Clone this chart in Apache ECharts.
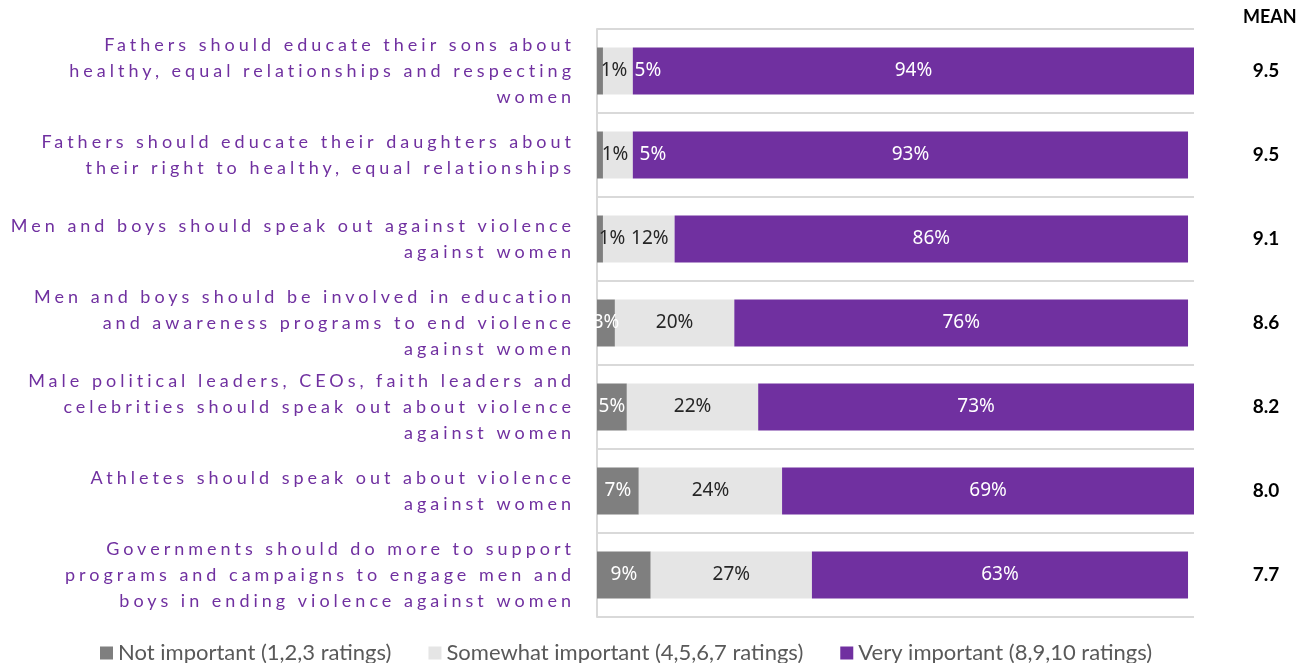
<!DOCTYPE html>
<html>
<head>
<meta charset="utf-8">
<script src="https://cdn.jsdelivr.net/npm/echarts@6/dist/echarts.min.js"></script>
<style>
  html, body { margin: 0; padding: 0; background: #fff; }
  #chart { width: 1299px; height: 663px; }
</style>
</head>
<body>
<div id="chart"></div>
<script>
// Survey statements (top to bottom)
const statements = [
  'Fathers should educate their sons about\nhealthy, equal relationships and respecting\nwomen',
  'Fathers should educate their daughters about\ntheir right to healthy, equal relationships',
  'Men and boys should speak out against violence\nagainst women',
  'Men and boys should be involved in education\nand awareness programs to end violence\nagainst women',
  'Male political leaders, CEOs, faith leaders and\ncelebrities should speak out about violence\nagainst women',
  'Athletes should speak out about violence\nagainst women',
  'Governments should do more to support\nprograms and campaigns to engage men and\nboys in ending violence against women'
];
const seriesNames = [
  'Not important (1,2,3 ratings)',
  'Somewhat important (4,5,6,7 ratings)',
  'Very important (8,9,10 ratings)'
];
const notImportant = [1, 1, 1, 3, 5, 7, 9];
const somewhatImportant = [5, 5, 12, 20, 22, 24, 27];
const veryImportant = [94, 93, 86, 76, 73, 69, 63];
const meanScores = ['9.5', '9.5', '9.1', '8.6', '8.2', '8.0', '7.7'];

const PURPLE_TEXT = '#7030a0';

// Spread the statement labels out (tracked lettering); other text is left untouched
(function () {
  const proto = CanvasRenderingContext2D.prototype;
  const origFill = proto.fillText;
  proto.fillText = function (text, x, y, maxW) {
    const spaced = this.fillStyle === PURPLE_TEXT && 'letterSpacing' in this;
    if (spaced) {
      this.save();
      this.letterSpacing = '4px';
    } else if ('letterSpacing' in this && this.letterSpacing !== '0px') {
      this.letterSpacing = '0px';
    }
    if (maxW === undefined) origFill.call(this, text, x, y);
    else origFill.call(this, text, x, y, maxW);
    if (spaced) this.restore();
  };
})();

// Nudges for labels of the very thin segments in the first rows
const labelNudge = {
  0: { 0: { dx: 14, color: '#262626' }, 1: { dx: 30, color: '#ffffff' } },
  1: { 0: { dx: 15, color: '#262626' }, 1: { dx: 35, color: '#ffffff' } },
  2: { 0: { dx: 12, color: '#262626' }, 1: { dx: 11, color: '#262626' } }
};

function buildData(values, seriesIdx) {
  return values.map((v, row) => {
    const n = labelNudge[row] && labelNudge[row][seriesIdx];
    if (!n) return v;
    return { value: v, label: { offset: [n.dx, 0], color: n.color } };
  });
}

const colors = ['#7f7f7f', '#e5e5e5', '#7030a0'];
const labelColors = ['#ffffff', '#262626', '#ffffff'];
const valueSets = [notImportant, somewhatImportant, veryImportant];

const chart = echarts.init(document.getElementById('chart'), null, { renderer: 'canvas' });

chart.setOption({
  animation: false,
  color: colors,
  grid: { left: 597, right: 105, top: 29, bottom: 46, containLabel: false },
  legend: {
    left: 95,
    top: 637,
    icon: 'rect',
    itemWidth: 13,
    itemHeight: 13,
    itemGap: 37,
    textStyle: { fontFamily: 'Lato', fontSize: 22, color: '#595959' },
    data: seriesNames
  },
  xAxis: {
    type: 'value',
    min: 0,
    max: 100,
    show: false
  },
  yAxis: [
    {
      type: 'category',
      inverse: true,
      data: statements,
      axisLine: { show: true, lineStyle: { color: '#d9d9d9', width: 2 } },
      axisTick: { show: false },
      splitLine: { show: true, lineStyle: { color: '#d9d9d9', width: 2 } },
      axisLabel: {
        margin: 22,
        color: PURPLE_TEXT,
        fontFamily: 'Lato',
        fontSize: 18,
        lineHeight: 26,
        align: 'right',
        padding: [3, 0, 0, 0]
      }
    },
    {
      type: 'category',
      inverse: true,
      position: 'right',
      data: statements,
      axisLine: { show: false },
      axisTick: { show: false },
      splitLine: { show: false },
      axisLabel: {
        margin: 72,
        align: 'center',
        color: '#000000',
        fontFamily: 'Lato',
        fontWeight: 'bold',
        fontSize: 19,
        formatter: (v, i) => meanScores[i]
      }
    }
  ],
  graphic: [
    {
      type: 'text',
      left: 1243,
      top: 8,
      style: {
        text: 'MEAN',
        fill: '#000000',
        font: 'bold 18px Lato'
      }
    }
  ],
  series: seriesNames.map((name, si) => ({
    name,
    type: 'bar',
    stack: 'total',
    barWidth: 47,
    data: buildData(valueSets[si], si),
    itemStyle: { color: colors[si] },
    label: {
      show: true,
      position: 'inside',
      formatter: '{c}%',
      color: labelColors[si],
      fontFamily: 'Noto Sans',
      fontSize: 19
    },
    emphasis: { disabled: true }
  }))
});
</script>
</body>
</html>
